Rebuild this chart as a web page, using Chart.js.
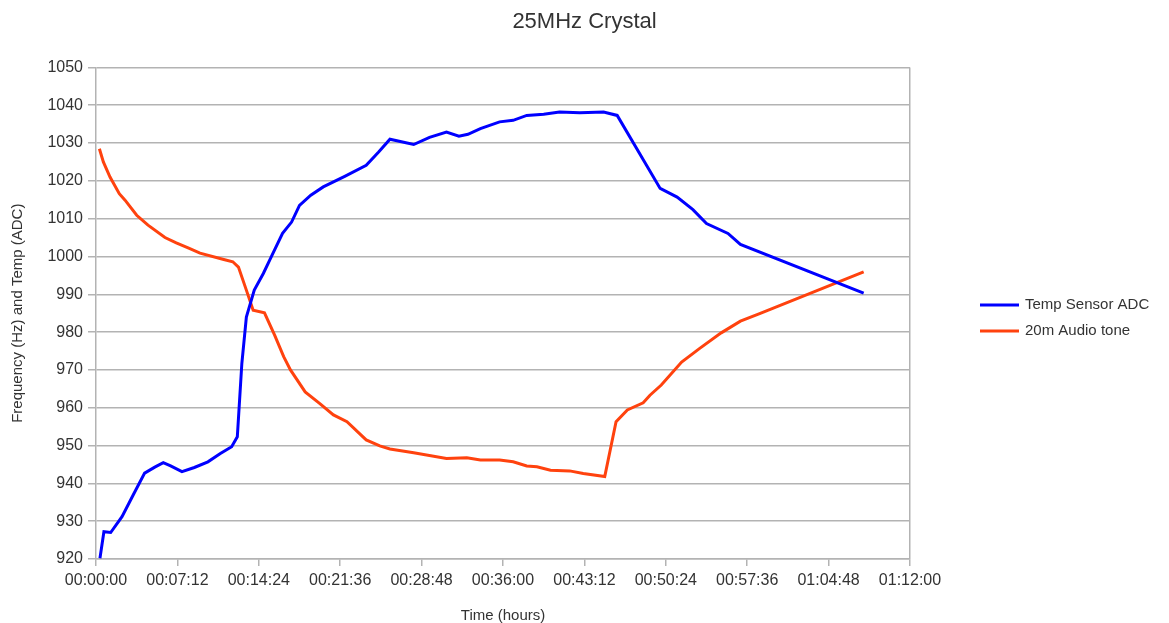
<!DOCTYPE html>
<html>
<head>
<meta charset="utf-8">
<script src="https://cdn.jsdelivr.net/npm/chart.js@4/dist/chart.umd.min.js"></script>
<style>
  html, body { margin: 0; padding: 0; background: #fff; }
  #wrap { width: 1169px; height: 623px; }
</style>
</head>
<body>
<div id="wrap"><canvas id="crystal-chart"></canvas></div>
<script>
// sample times in minutes, values in Hz / ADC counts
const tempMinutes = [0.35, 0.7, 1.3, 2.3, 3.3, 4.3, 5.2, 5.95, 6.6, 7.6, 8.7, 9.9, 11.0, 12.0, 12.5,
  12.9, 13.3, 14.0, 14.8, 15.5, 16.5, 17.3, 18.0, 19.0, 20.1, 22.0, 23.9, 25.0, 26.0, 28.1, 29.5,
  31.0, 32.1, 32.9, 34.0, 35.7, 36.9, 38.1, 39.6, 41.0, 42.8, 44.9, 46.1, 49.9, 51.4, 52.8, 54.0,
  55.9, 57.0, 67.9];
const tempAdc = [920.2, 927.2, 927.0, 931.2, 937.0, 942.7, 944.3, 945.5, 944.6, 943.1, 944.2, 945.7,
  947.9, 949.7, 952.3, 971.7, 984.0, 991.1, 995.5, 999.9, 1006.1, 1009.1, 1013.5, 1016.2, 1018.4,
  1021.2, 1024.1, 1027.6, 1031.0, 1029.6, 1031.5, 1032.9, 1031.8, 1032.3, 1033.8, 1035.6, 1036.0,
  1037.3, 1037.6, 1038.2, 1038.0, 1038.2, 1037.3, 1018.0, 1015.7, 1012.4, 1008.7, 1006.1, 1003.2,
  990.3];

const toneMinutes = [0.3, 0.65, 1.24, 2.06, 2.57, 3.6, 4.6, 6.1, 7.1, 8.2, 9.2, 11.3, 12.1, 12.6,
  13.3, 13.9, 14.9, 15.8, 16.6, 17.2, 18.5, 19.8, 21.0, 22.2, 23.9, 25.1, 26.0, 28.1, 31.0, 32.8,
  34.0, 35.7, 36.9, 38.1, 39.0, 40.2, 41.9, 43.1, 45.0, 46.0, 47.0, 48.4, 49.0, 50.0, 51.8, 53.4,
  55.3, 57.0, 58.7, 67.9];
const toneHz = [1028.5, 1025.0, 1021.0, 1016.6, 1014.9, 1010.9, 1008.3, 1005.0, 1003.6, 1002.2,
  1000.9, 999.2, 998.6, 997.2, 991.1, 985.8, 985.1, 979.2, 973.5, 970.0, 964.2, 961.1, 958.1, 956.3,
  951.5, 949.9, 949.1, 948.1, 946.6, 946.8, 946.2, 946.2, 945.7, 944.6, 944.4, 943.5, 943.3, 942.6,
  941.8, 956.3, 959.4, 961.3, 963.3, 966.0, 972.1, 975.7, 979.8, 982.9, 984.9, 995.9];

const seriesNames = ["Temp Sensor ADC", "20m Audio tone"];
const seriesColors = ["#0000ff", "#ff420e"];

// x axis runs 0..01:12:00 in 00:07:12 steps (seconds)
const xMaxSec = 4320;
const xStepSec = 432;
const yMin = 920, yMax = 1050, yStep = 10;

const toPoints = (mins, vals) => mins.map((m, i) => ({ x: m * 60, y: vals[i] }));
const pad2 = n => String(n).padStart(2, "0");
const hms = s => {
  s = Math.round(s);
  return pad2(Math.floor(s / 3600)) + ":" + pad2(Math.floor(s % 3600 / 60)) + ":" + pad2(s % 60);
};

const gridGrey = "#b3b3b3";
const textGrey = "#333333";
const baseFont = "'Liberation Sans', Arial, sans-serif";

// legend drawn to the right of the plot
const sideLegend = {
  id: "sideLegend",
  afterDraw(chart) {
    const ctx = chart.ctx;
    ctx.save();
    chart.data.datasets.forEach((ds, i) => {
      const y = 305 + i * 26;
      ctx.strokeStyle = ds.borderColor;
      ctx.lineWidth = 3;
      ctx.beginPath();
      ctx.moveTo(980, y);
      ctx.lineTo(1019, y);
      ctx.stroke();
      ctx.fillStyle = textGrey;
      ctx.font = "15px " + baseFont;
      ctx.textBaseline = "middle";
      ctx.fillText(ds.label, 1025, y);
    });
    ctx.restore();
  }
};

new Chart(document.getElementById("crystal-chart"), {
  type: "line",
  data: {
    datasets: [{
      label: seriesNames[0],
      data: toPoints(tempMinutes, tempAdc),
      borderColor: seriesColors[0],
      backgroundColor: seriesColors[0],
      borderWidth: 3,
      pointRadius: 0,
      tension: 0
    }, {
      label: seriesNames[1],
      data: toPoints(toneMinutes, toneHz),
      borderColor: seriesColors[1],
      backgroundColor: seriesColors[1],
      borderWidth: 3,
      pointRadius: 0,
      tension: 0
    }]
  },
  options: {
    responsive: true,
    maintainAspectRatio: false,
    animation: false,
    layout: { padding: 0 },
    plugins: {
      legend: { display: false },
      tooltip: { enabled: false },
      title: {
        display: true,
        text: "25MHz Crystal",
        color: textGrey,
        font: { family: baseFont, size: 22, weight: "normal" },
        padding: { top: 9, bottom: 32 }
      }
    },
    scales: {
      x: {
        type: "linear",
        min: 0,
        max: xMaxSec,
        afterFit(scale) { scale.paddingRight = 259; scale.height = 64; },
        ticks: {
          stepSize: xStepSec,
          autoSkip: false,
          maxRotation: 0,
          padding: 5,
          color: textGrey,
          font: { family: baseFont, size: 16 },
          callback: v => hms(v)
        },
        grid: {
          color: c => (c.tick && c.tick.value === xMaxSec ? gridGrey : "transparent"),
          tickColor: gridGrey,
          tickLength: 7,
          lineWidth: 1.5
        },
        border: { color: gridGrey, width: 1.5 },
        title: {
          display: true,
          text: "Time (hours)",
          color: textGrey,
          font: { family: baseFont, size: 15 },
          padding: { top: 0, bottom: -2 }
        }
      },
      y: {
        min: yMin,
        max: yMax,
        afterFit(scale) { scale.width = 96; },
        ticks: {
          stepSize: yStep,
          padding: 5,
          color: textGrey,
          font: { family: baseFont, size: 16 },
          callback: v => String(v)
        },
        grid: {
          color: gridGrey,
          tickColor: gridGrey,
          tickLength: 8,
          lineWidth: 1.5
        },
        border: { color: gridGrey, width: 1.5 },
        title: {
          display: true,
          text: "Frequency (Hz) and Temp (ADC)",
          color: textGrey,
          font: { family: baseFont, size: 15 },
          padding: { top: 9, bottom: 0 }
        }
      }
    }
  },
  plugins: [sideLegend]
});
</script>
</body>
</html>
